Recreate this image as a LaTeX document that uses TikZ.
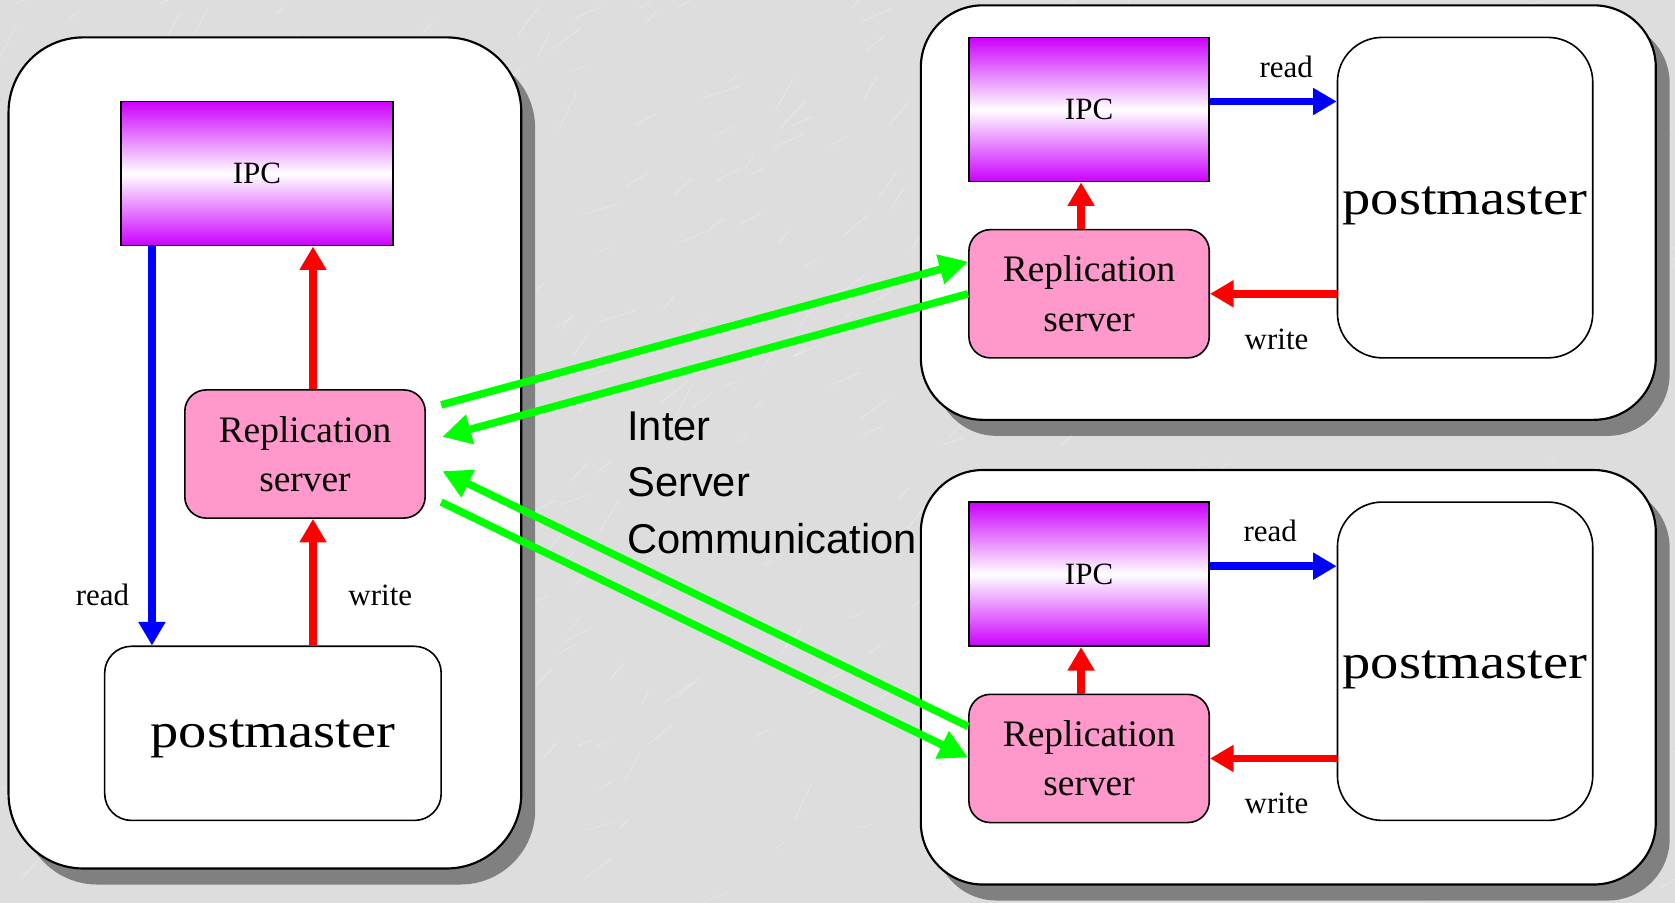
\documentclass[tikz,border=0pt]{standalone}
\usepackage{fontspec}
\usepackage{graphicx}
\setmainfont{Liberation Serif}
\newfontfamily\sansf{Liberation Sans}
\usetikzlibrary{arrows.meta,shadows}
\definecolor{ipcpurple}{RGB}{204,0,255}
\definecolor{reppink}{RGB}{255,153,204}
\definecolor{bggray}{RGB}{221,221,221}
\definecolor{shadowgray}{RGB}{128,128,128}
\definecolor{agreen}{RGB}{0,255,0}
\pgfdeclareverticalshading{ipcshade}{100bp}{color(0bp)=(ipcpurple); color(25bp)=(ipcpurple); color(50bp)=(white); color(75bp)=(ipcpurple); color(100bp)=(ipcpurple)}
\newcommand{\pmtext}{\scalebox{1.15}[1]{postmaster}}
\tikzset{
  serverbox/.style={draw=black, line width=2pt, fill=white,
    general shadow={fill=shadowgray, shadow xshift=13pt, shadow yshift=-15pt}},
  ipcbox/.style={draw=black, line width=1.5pt, shade, shading=ipcshade,
    minimum width=#1, minimum height=135pt, inner sep=0pt,
    font=\fontsize{29}{34}\selectfont},
  repbox/.style={draw=black, line width=1.5pt, fill=reppink, rounded corners=20pt,
    minimum width=225pt, minimum height=120pt, inner sep=0pt, align=center,
    font=\fontsize{35}{46}\selectfont},
  pmbox/.style={draw=black, line width=1.5pt, fill=white, inner sep=0pt,
    text depth=0pt, font=\fontsize{46}{54}\selectfont},
  lbl/.style={inner sep=0pt, font=\fontsize{29}{34}\selectfont},
  istext/.style={inner sep=0pt, anchor=base west, font=\sansf\fontsize{39}{53}\selectfont},
  bluearr/.style={draw=blue, line width=7pt, -{Triangle[length=22pt,width=24pt]}},
  redarr/.style={draw=red, line width=7pt, -{Triangle[length=22pt,width=24pt]}},
  greenarr/.style={draw=agreen, line width=7pt, -{Triangle[length=27pt,width=27pt]}},
}
\begin{document}
\begin{tikzpicture}[x=1pt,y=-1pt]
\useasboundingbox (0,0) rectangle (1568,845);
\fill[bggray] (0,0) rectangle (1568,845);
\pgfmathsetseed{11}
\foreach \i in {1,...,500}{
  \pgfmathsetmacro\sx{rnd*1568}
  \pgfmathsetmacro\sy{rnd*845}
  \pgfmathsetmacro\len{8+rnd*30}
  \pgfmathsetmacro\ang{-15-rnd*50}
  \draw[white, opacity=0.3, line width=0.7pt] (\sx,\sy) -- ++(\ang:\len);
}

% outer server boxes
\node[serverbox, rounded corners=70pt, minimum width=480pt, minimum height=778pt] (srvL) at (248,424) {};
\node[serverbox, rounded corners=58pt, minimum width=688pt, minimum height=388pt] (srvR1) at (1206,199) {};
\node[serverbox, rounded corners=58pt, minimum width=688pt, minimum height=388pt] (srvR2) at (1206,634) {};

% left server
\node[ipcbox=255pt] (ipcL) at (240.5,162.5) {IPC};
\node[repbox] (rsL) at (285.5,425) {Replication\\server};
\node[pmbox, text height=27pt, rounded corners=25pt, minimum width=315pt, minimum height=163pt] (pmL) at (255.5,686.5) {\pmtext};

% top right server
\node[ipcbox=225pt] (ipcR1) at (1019.5,102.5) {IPC};
\node[repbox] (rsR1) at (1019.5,275) {Replication\\server};
\node[pmbox, text height=32pt, rounded corners=42pt, minimum width=239pt, minimum height=300pt] (pmR1) at (1371.5,185) {\pmtext};

% bottom right server
\node[ipcbox=225pt] (ipcR2) at (1019.5,537.5) {IPC};
\node[repbox] (rsR2) at (1019.5,710) {Replication\\server};
\node[pmbox, text height=32pt, rounded corners=42pt, minimum width=239pt, minimum height=298pt] (pmR2) at (1371.5,619) {\pmtext};

% left arrows
\coordinate (bL) at ([xshift=30pt]ipcL.south west);
\draw[bluearr] (bL) -- (bL |- pmL.north);
\coordinate (rL) at ([xshift=7.5pt]rsL.north);
\draw[redarr] (rL) -- (rL |- ipcL.south);
\draw[redarr] (rL |- pmL.north) -- (rL |- rsL.south);
\node[lbl] (readL) at (96,557) {read};
\node[lbl] (writeL) at (356,557) {write};

% top right arrows
\coordinate (bR1) at ([yshift=7.5pt]ipcR1.east);
\draw[bluearr] (bR1) -- (bR1 -| pmR1.west);
\draw[redarr] (pmR1.west |- rsR1.east) -- (rsR1.east);
\coordinate (rR1) at ([xshift=-7.5pt]rsR1.north);
\draw[redarr] (rR1) -- (rR1 |- ipcR1.south);
\node[lbl] (readR1) at (1204,63) {read};
\node[lbl] (writeR1) at (1195,318) {write};

% bottom right arrows
\coordinate (bR2) at ([yshift=7.5pt]ipcR2.east);
\draw[bluearr] (bR2) -- (bR2 -| pmR2.west);
\draw[redarr] (pmR2.west |- rsR2.east) -- (rsR2.east);
\coordinate (rR2) at ([xshift=-7.5pt]rsR2.north);
\draw[redarr] (rR2) -- (rR2 |- ipcR2.south);
\node[lbl] (readR2) at (1189,497) {read};
\node[lbl] (writeR2) at (1195,752) {write};

% inter server communication
\coordinate (g1s) at (413,379);
\coordinate (g2e) at (414,409);
\coordinate (g3e) at (414,441);
\coordinate (g4s) at (413,470);
\draw[greenarr] (g1s) -- ([yshift=30pt]rsR1.west);
\draw[greenarr] (rsR1.west) -- (g2e);
\draw[greenarr] ([yshift=30pt]rsR2.west) -- (g3e);
\draw[greenarr] (g4s) -- ([yshift=1pt]rsR2.west);

\node[istext] (isc1) at (587,412) {Inter};
\node[istext] (isc2) at (587,465) {Server};
\node[istext] (isc3) at (587,518) {Communication};
\end{tikzpicture}
\end{document}
